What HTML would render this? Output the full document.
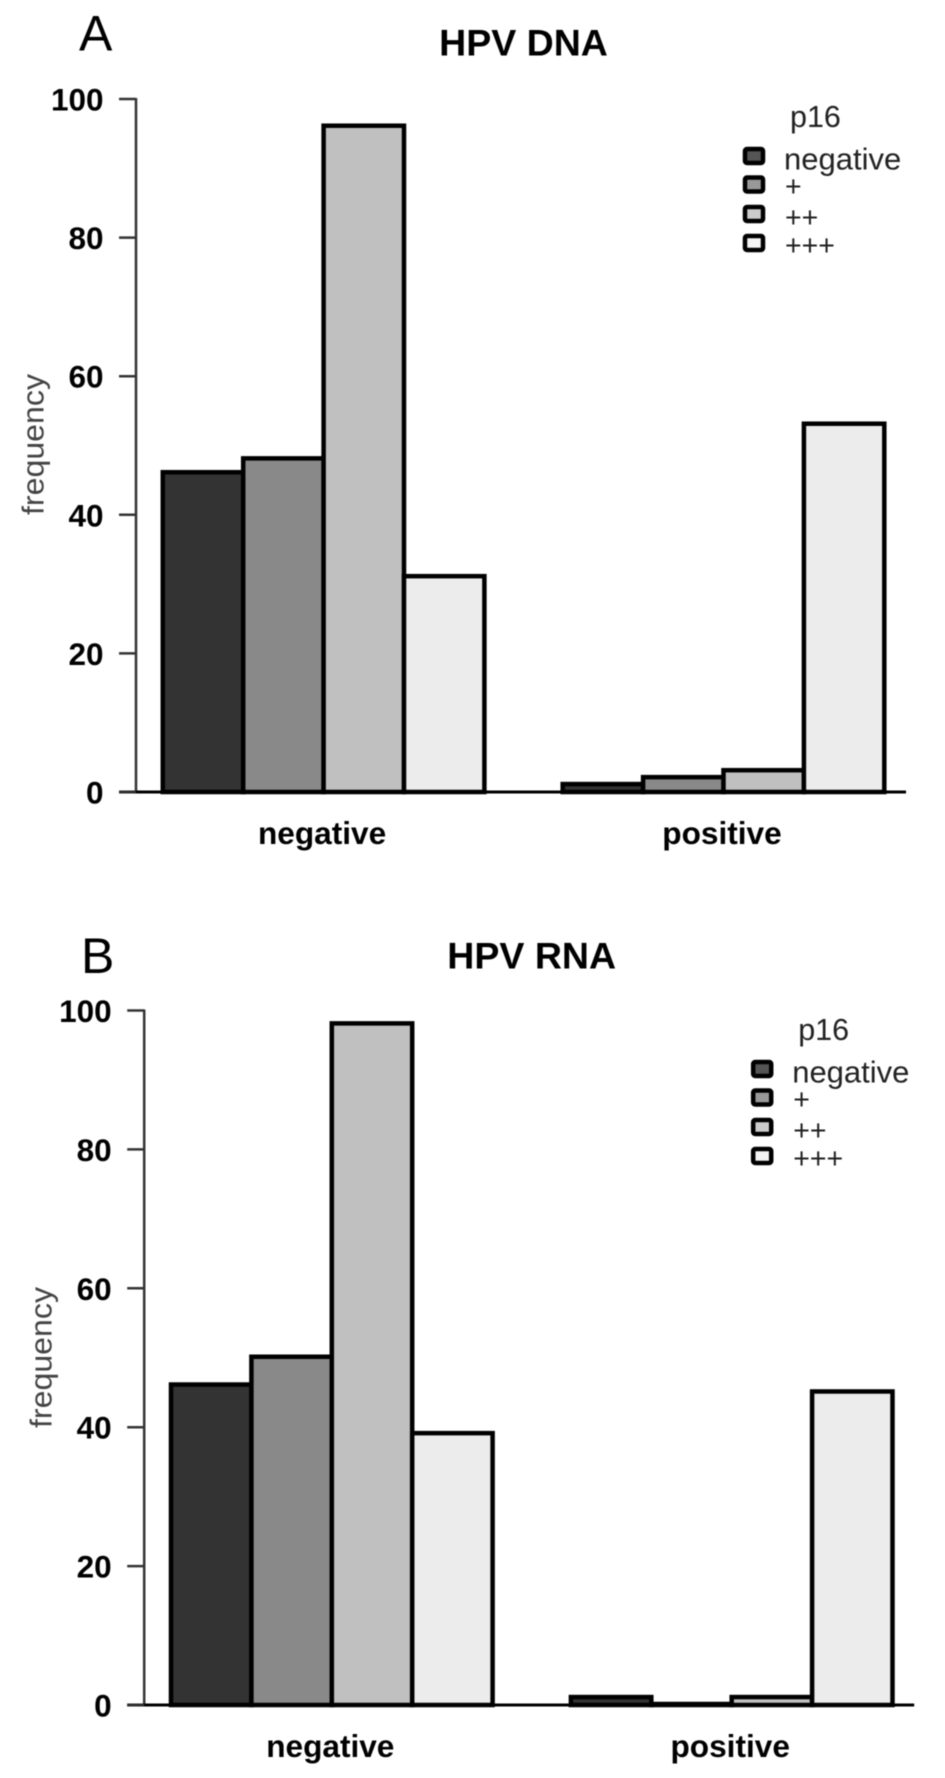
<!DOCTYPE html>
<html lang="en">
<head>
<meta charset="utf-8">
<title>HPV DNA and HPV RNA by p16</title>
<style>
html,body{margin:0;padding:0;background:#fff;}
svg{display:block;filter:blur(0.55px);}
text{font-family:"Liberation Sans",Arial,sans-serif;fill:#000;}
.b{font-weight:bold;}
</style>
</head>
<body>
<svg id="figure" xmlns="http://www.w3.org/2000/svg" width="945" height="1778" viewBox="0 0 945 1778">
<rect x="0" y="0" width="945" height="1778" fill="#fff"/>
</svg>
<script>
const categories = ['negative', 'positive'];
const p16Levels = ['negative', '+', '++', '+++'];
const tickValues = [0, 20, 40, 60, 80, 100];
const dnaNegative = [46, 48, 96, 31];
const dnaPositive = [1, 2, 3, 53];
const rnaNegative = [46, 50, 98, 39];
const rnaPositive = [1, 0, 1, 45];

const SVG_NS = 'http://www.w3.org/2000/svg';
const fills = ['#333333', '#898989', '#c0c0c0', '#ececec'];
const swatchFills = ['#555555', '#999999', '#cccccc', '#f4f4f4'];
const root = document.getElementById('figure');

function make(tag, parent, attrs, content) {
  const el = document.createElementNS(SVG_NS, tag);
  for (const k in attrs) el.setAttribute(k, attrs[k]);
  if (content !== undefined) el.textContent = content;
  parent.appendChild(el);
  return el;
}

function xScale(groupIndex, barIndex) { return [162.8, 562.7][groupIndex] + barIndex * 80.4; }

function drawPanel(letter, title, series, dx, dy, letterDx, letterDy, unit) {
  function yScale(v) { return 792 - v * unit; }

  const g = make('g', root, { transform: 'translate(' + dx + ' ' + dy + ')' });
  
  

  const letterEl = make('text', g, { x: 79 + letterDx, y: 50.5 + letterDy, 'font-size': 50 }, letter);
  
  

  const titleEl = make('text', g, { x: 523.5, y: 55.5, 'font-size': 37.5, 'text-anchor': 'middle', class: 'b' }, title);
  
  

  const yTitle = make('text', g, { x: 0, y: 0, 'font-size': 31, 'text-anchor': 'middle', textLength: 141, lengthAdjust: 'spacingAndGlyphs', transform: 'translate(43.5 444.5) rotate(-90)', style: 'fill:#444' }, 'frequency');
  
  

  series.forEach(function (values, groupIndex) {
    values.forEach(function (value, barIndex) {
      const top = yScale(value) - 1;
      const bar = make('rect', g, {
        x: xScale(groupIndex, barIndex),
        y: top,
        width: 80.4,
        height: yScale(0) - top,
        fill: fills[barIndex],
        stroke: '#000',
        'stroke-width': 4.5
      });
      
      
    });
    const label = make('text', g, {
      x: xScale(groupIndex, 2) - 1.5,
      y: 844,
      'font-size': 31.6,
      'text-anchor': 'middle',
      class: 'b'
    }, categories[groupIndex]);
    
    
  });

  const yAxis = make('line', g, { x1: 136, x2: 136, y1: yScale(100) - 1, y2: yScale(0), stroke: '#333', 'stroke-width': 2.5 });
  
  

  const xAxis = make('line', g, { x1: 119, x2: 906, y1: yScale(0), y2: yScale(0), stroke: '#000', 'stroke-width': 3 });
  
  

  tickValues.forEach(function (t) {
    const tick = make('line', g, { x1: 119, x2: 136, y1: yScale(t), y2: yScale(t), stroke: '#333', 'stroke-width': 2.5 });
    
    
    const lab = make('text', g, { x: 103.5, y: yScale(t) + 11.5, 'font-size': 31.5, 'text-anchor': 'end', class: 'b' }, String(t));
    
    
  });

  const legend = make('g', g, {});
  
  
  const legendTitle = make('text', legend, { x: 790, y: 127, 'font-size': 30.5, style: 'fill:#222' }, 'p16');
  
  
  const rowTop = [147, 175.5, 205, 234];
  const rowBase = [169.5, 196, 227, 255];
  p16Levels.forEach(function (name, i) {
    const sw = make('rect', legend, { x: 745, y: rowTop[i] + 2, width: 18, height: 14, rx: 2, fill: swatchFills[i], stroke: '#000', 'stroke-width': 4.5 });
    
    
    const txt = make('text', legend, { x: i === 0 ? 784 : 785, y: rowBase[i], 'font-size': i === 0 ? 31 : 28.5, style: 'fill:#222' }, name);
    
    
  });
}

drawPanel('A', 'HPV DNA', [dnaNegative, dnaPositive], 0, 0, 0, 0, 6.93);
drawPanel('B', 'HPV RNA', [rnaNegative, rnaPositive], 8.2, 913, -6.2, 9.5, 6.945);
</script>
</body>
</html>
